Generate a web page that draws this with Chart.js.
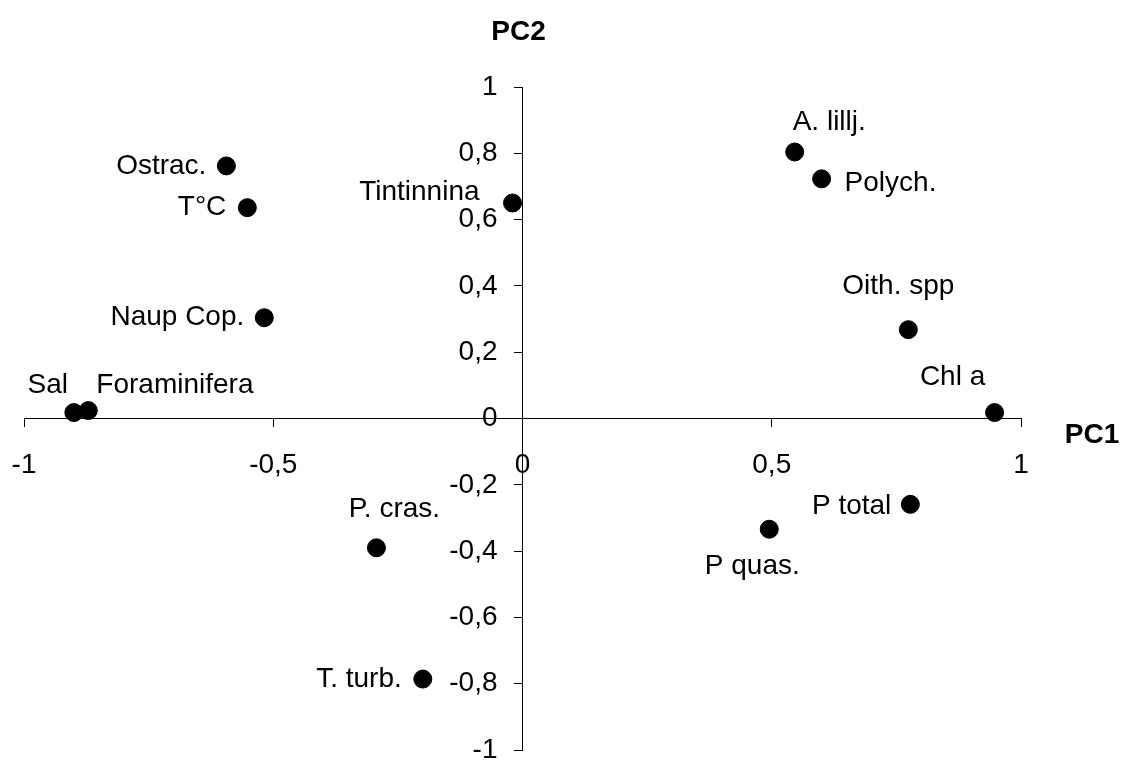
<!DOCTYPE html>
<html>
<head>
<meta charset="utf-8">
<script src="https://cdn.jsdelivr.net/npm/chart.js@4"></script>
<style>
  html, body { margin: 0; padding: 0; background: #fff; }
  #wrap { width: 1130px; height: 760px; }
</style>
</head>
<body>
<div id="wrap"><canvas id="pca-chart"></canvas></div>
<script>
const categories = ['Sal', 'Foraminifera', 'Ostrac.', 'T°C', 'Naup Cop.', 'Tintinnina', 'A. lillj.',
    'Polych.', 'Oith. spp', 'Chl a', 'P total', 'P quas.', 'P. cras.', 'T. turb.'];
const pc1 = [-0.90, -0.871, -0.594, -0.552, -0.518, -0.02, 0.546, 0.60, 0.774, 0.947, 0.778, 0.495, -0.293, -0.20];
const pc2 = [0.018, 0.024, 0.762, 0.636, 0.304, 0.65, 0.804, 0.723, 0.268, 0.018, -0.259, -0.334, -0.39, -0.786];
const xTicks = [-1, -0.5, 0, 0.5, 1];
const yTicks = [-1, -0.8, -0.6, -0.4, -0.2, 0, 0.2, 0.4, 0.6, 0.8, 1];

// where each name sits next to its point: [align, dx, dy]
const labelPlace = {
    'Sal': ['center', -26, -27],
    'Foraminifera': ['left', 8, -25],
    'Ostrac.': ['right', -20, 0],
    'T°C': ['right', -21, 0],
    'Naup Cop.': ['right', -20, 0],
    'Tintinnina': ['right', -33, -11],
    'A. lillj.': ['left', -2, -30],
    'Polych.': ['left', 23, 4],
    'Oith. spp': ['center', -10, -43],
    'Chl a': ['center', -42, -35],
    'P total': ['right', -19, 2],
    'P quas.': ['center', -17, 37],
    'P. cras.': ['center', 18, -39],
    'T. turb.': ['right', -21, 0]
};

const FONT = '"Liberation Sans", Arial, sans-serif';
const fmt = v => String(Math.round(v * 10) / 10).replace('.', ',');

// tick labels, point names and axis titles
const pcaText = {
    id: 'pcaText',
    afterDatasetsDraw(chart) {
        const ctx = chart.ctx;
        const xs = chart.scales.x, ys = chart.scales.y;
        const x0 = xs.getPixelForValue(0), y0 = ys.getPixelForValue(0);
        ctx.save();
        ctx.fillStyle = '#000';
        ctx.textBaseline = 'middle';
        ctx.font = '28px ' + FONT;

        ctx.textAlign = 'center';
        xs.ticks.forEach(t => ctx.fillText(fmt(t.value), xs.getPixelForValue(t.value), y0 + 47));
        ctx.textAlign = 'right';
        ys.ticks.forEach(t => ctx.fillText(fmt(t.value), x0 - 25, ys.getPixelForValue(t.value)));

        const meta = chart.getDatasetMeta(0);
        meta.data.forEach((pt, i) => {
            const p = labelPlace[categories[i]];
            ctx.textAlign = p[0];
            ctx.fillText(categories[i], pt.x + p[1], pt.y + p[2]);
        });

        ctx.font = 'bold 28px ' + FONT;
        ctx.textAlign = 'center';
        ctx.fillText('PC2', x0 - 4, 32);
        ctx.fillText('PC1', 1092, y0 + 17);
        ctx.restore();
    }
};

const ctx = document.getElementById('pca-chart').getContext('2d');
const pcaChart = new Chart(ctx, {
    type: 'scatter',
    data: {
        labels: categories,
        datasets: [{
            data: pc1.map((x, i) => ({x: x, y: pc2[i]})),
            backgroundColor: '#000',
            borderColor: '#000',
            pointRadius: 9,
            pointHoverRadius: 9
        }]
    },
    options: {
        responsive: true,
        maintainAspectRatio: false,
        animation: false,
        layout: {padding: {left: 24, right: 109, top: 87, bottom: 8}},
        plugins: {legend: {display: false}, tooltip: {enabled: false}},
        scales: {
            x: {
                type: 'linear',
                position: {y: 0},
                min: -1,
                max: 1,
                afterBuildTicks: s => { s.ticks = xTicks.map(v => ({value: v})); },
                afterFit: s => { s.height = 0; },
                grid: {drawOnChartArea: false, tickLength: 8, color: '#000'},
                border: {color: '#000', width: 1},
                ticks: {display: false}
            },
            y: {
                type: 'linear',
                position: {x: 0},
                min: -1,
                max: 1,
                afterBuildTicks: s => { s.ticks = yTicks.map(v => ({value: v})); },
                afterFit: s => { s.width = 0; },
                grid: {drawOnChartArea: false, tickLength: 8, color: '#000'},
                border: {color: '#000', width: 1},
                ticks: {display: false}
            }
        }
    },
    plugins: [pcaText]
});
</script>
</body>
</html>
